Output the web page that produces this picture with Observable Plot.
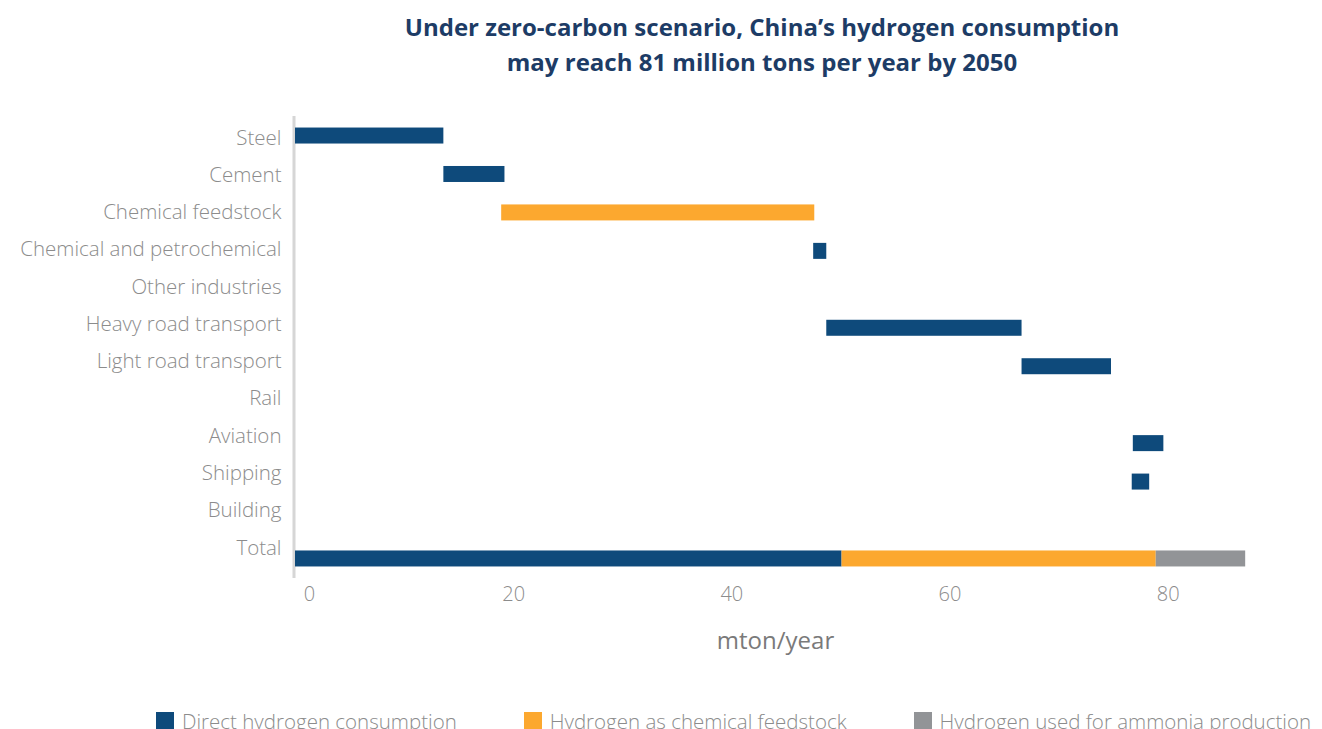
<!DOCTYPE html>
<html>
<head>
<meta charset="utf-8">
<script src="https://cdn.jsdelivr.net/npm/d3@7"></script>
<script src="https://cdn.jsdelivr.net/npm/@observablehq/plot@0.6"></script>
<style>
  html, body { margin: 0; padding: 0; background: #fff; }
  body { width: 1322px; height: 729px; overflow: hidden; font-family: "Open Sans", Lato, sans-serif; }
  #title { box-sizing: border-box; height: 100px; padding: 9px 0 0 202px; text-align: center;
           font-size: 24px; font-weight: 700; line-height: 35px; color: #1d3c66; }
  #chart { height: 568px; }
  #legend { display: flex; align-items: center; padding: 39px 0 0 156px; gap: 67px; }
  .item { display: flex; align-items: center; font-size: 20.5px; color: #8c8c8c; font-weight: 300; white-space: nowrap; }
  .sw { width: 18px; height: 19px; margin-right: 8px; flex: none; }
</style>
</head>
<body>
<div id="title">Under zero-carbon scenario, China’s hydrogen consumption<br>may reach 81 million tons per year by 2050</div>
<div id="chart"></div>
<div id="legend"></div>
<script>
const categories = ["Steel", "Cement", "Chemical feedstock", "Chemical and petrochemical", "Other industries",
  "Heavy road transport", "Light road transport", "Rail", "Aviation", "Shipping", "Building", "Total"];
const seriesNames = ["Direct hydrogen consumption", "Hydrogen as chemical feedstock", "Hydrogen used for ammonia production"];
const seriesColors = ["#0e4a7b", "#fca82f", "#929497"];
const xTicks = [0, 20, 40, 60, 80];

// Floating bars (waterfall): category, series, start, end (mton/year)
const barCategory = ["Steel", "Cement", "Chemical feedstock", "Chemical and petrochemical", "Heavy road transport",
  "Light road transport", "Aviation", "Shipping", "Total", "Total", "Total"];
const barSeries = [seriesNames[0], seriesNames[0], seriesNames[1], seriesNames[0], seriesNames[0],
  seriesNames[0], seriesNames[0], seriesNames[0], seriesNames[0], seriesNames[1], seriesNames[2]];
const barStart = [0, 13.6, 18.9, 47.5, 48.7, 66.6, 76.8, 76.7, 0, 50.1, 78.9];
const barEnd = [13.6, 19.2, 47.6, 48.7, 66.6, 74.8, 79.6, 78.3, 50.1, 78.9, 87.1];

const bars = barCategory.map((c, i) => ({category: c, series: barSeries[i], start: barStart[i], end: barEnd[i]}));

const labelColor = "#8c8c8c";
const font = "'Open Sans', Lato, sans-serif";
const yLabelStyle = {tickSize: 0, tickPadding: 14, fontSize: 20.5, fontWeight: 300, fill: labelColor, label: null};
// In the reference the category labels sit on a slightly tighter spacing than the bars
const yAxes = categories.map((c, i) => Plot.axisY([c], {...yLabelStyle, dy: 2 - 13 * i / (categories.length - 1)}));

const chart = Plot.plot({
  width: 1322,
  height: 568,
  marginLeft: 295,
  marginRight: 67,
  marginTop: 16,
  marginBottom: 90,
  style: {fontFamily: font, background: "white", overflow: "visible"},
  x: {domain: [0, 88]},
  y: {domain: categories, paddingInner: 0.584, paddingOuter: 0.3, round: false},
  color: {domain: seriesNames, range: seriesColors},
  marks: [
    Plot.ruleX([0], {stroke: "#d6d6d6", strokeWidth: 3, dx: -1.5}),
    Plot.barX(bars, {y: "category", x1: "start", x2: "end", fill: "series"}),
    ...yAxes,
    Plot.axisX(xTicks.slice(1), {tickSize: 0, tickPadding: 8, fontSize: 20, fontWeight: 300, fill: labelColor, label: null}),
    Plot.axisX(xTicks.slice(0, 1), {tickSize: 0, tickPadding: 8, dx: 14, fontSize: 20, fontWeight: 300, fill: labelColor, label: null}),
    Plot.text(["mton/year"], {frameAnchor: "bottom", lineAnchor: "middle", dy: 63, fontSize: 24, fontWeight: 400, fill: "#7a7a7a", text: d => d})
  ]
});
document.getElementById("chart").appendChild(chart);

const legend = document.getElementById("legend");
seriesNames.forEach((name, i) => {
  const item = document.createElement("div");
  item.className = "item";
  const sw = document.createElement("span");
  sw.className = "sw";
  sw.style.background = seriesColors[i];
  const t = document.createElement("span");
  t.textContent = name;
  item.appendChild(sw);
  item.appendChild(t);
  legend.appendChild(item);
});
</script>
</body>
</html>
